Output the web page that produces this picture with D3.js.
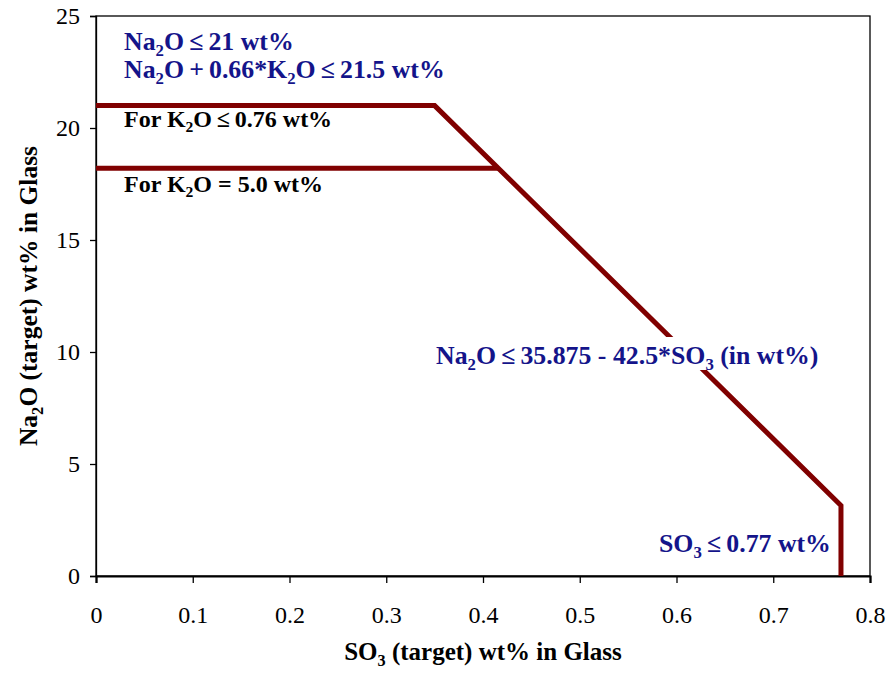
<!DOCTYPE html>
<html>
<head>
<meta charset="utf-8">
<script src="https://cdn.jsdelivr.net/npm/d3@7"></script>
<style>
  body { margin: 0; background: #fff; }
  svg text { font-family: "Liberation Serif", "Times New Roman", serif; }
</style>
</head>
<body>
<div id="chart"></div>
<script>
// limit line for K2O <= 0.76 wt%
var so3Main = [0, 0.35, 0.77, 0.77];
var na2oMain = [21, 21, 3.15, 0];
// limit line for K2O = 5.0 wt%
var so3K5 = [0, 0.416];
var na2oK5 = [18.2, 18.2];

var xTicks = [0, 0.1, 0.2, 0.3, 0.4, 0.5, 0.6, 0.7, 0.8];
var yTicks = [0, 5, 10, 15, 20, 25];

var width = 888, height = 674;
var margin = {top: 16, right: 18, bottom: 98, left: 96};

var x = d3.scaleLinear().domain([0, 0.8]).range([margin.left, width - margin.right]);
var y = d3.scaleLinear().domain([0, 25]).range([height - margin.bottom, margin.top]);

var svg = d3.select("#chart").append("svg")
  .attr("width", width)
  .attr("height", height);

// frame
svg.append("rect")
  .attr("x", x(0)).attr("y", y(25))
  .attr("width", x(0.8) - x(0)).attr("height", y(0) - y(25))
  .attr("fill", "none").attr("stroke", "#000").attr("stroke-width", 1.3);

// x axis
var xAxis = svg.append("g")
  .attr("transform", "translate(0," + y(0) + ")")
  .call(d3.axisBottom(x).tickValues(xTicks).tickSize(7).tickPadding(23)
    .tickFormat(function(d) { return d === 0 ? "0" : d3.format(".1f")(d); }));
xAxis.select(".domain").attr("stroke-width", 2.2);
xAxis.selectAll(".tick line").attr("stroke-width", 1.3);
xAxis.selectAll("text").attr("font-size", 24).attr("font-family", "Liberation Serif").attr("fill", "#000");

// y axis
var yAxis = svg.append("g")
  .attr("transform", "translate(" + x(0) + ",0)")
  .call(d3.axisLeft(y).tickValues(yTicks).tickSize(6).tickPadding(10));
yAxis.select(".domain").attr("stroke-width", 1.3);
yAxis.selectAll(".tick line").attr("stroke-width", 1.3);
yAxis.selectAll("text").attr("font-size", 24).attr("font-family", "Liberation Serif").attr("fill", "#000");

// lines
var line = d3.line()
  .x(function(d) { return x(d[0]); })
  .y(function(d) { return y(d[1]); });

svg.append("path")
  .datum(d3.zip(so3K5, na2oK5))
  .attr("d", line)
  .attr("fill", "none").attr("stroke", "#800000").attr("stroke-width", 5);

svg.append("path")
  .datum(d3.zip(so3Main, na2oMain))
  .attr("d", line)
  .attr("fill", "none").attr("stroke", "#800000").attr("stroke-width", 5)
  .attr("stroke-linejoin", "miter");

// text with subscripts, no empty tspans
function richText(parent, px, py, parts, opts) {
  var t = parent.append("text")
    .attr("x", px).attr("y", py)
    .attr("font-size", opts.size)
    .attr("font-weight", "bold")
    .attr("fill", opts.color)
    .attr("text-anchor", opts.anchor || "start");
  if (opts.rotate) t.attr("transform", "rotate(" + opts.rotate + "," + px + "," + py + ")");
  var shift = opts.size * 0.22, down = false;
  parts.forEach(function(p) {
    var s = t.append("tspan");
    if (typeof p === "string") {
      if (down) { s.attr("dy", -shift); down = false; }
      s.text(p);
    } else {
      s.attr("font-size", opts.size * 0.65).attr("dy", shift).text(p.sub);
      down = true;
    }
  });
  return t;
}

var blue = "#14148a";

richText(svg, 124, 50, ["Na", {sub: "2"}, "O\u2009\u2264\u200921 wt%"], {size: 25.8, color: blue});
richText(svg, 124, 78, ["Na", {sub: "2"}, "O\u2009+\u20090.66*K", {sub: "2"}, "O\u2009\u2264\u200921.5 wt%"], {size: 25.8, color: blue});
richText(svg, 124, 127, ["For K", {sub: "2"}, "O\u2009\u2264\u20090.76 wt%"], {size: 24, color: "#000"});
richText(svg, 124, 192, ["For K", {sub: "2"}, "O = 5.0 wt%"], {size: 24, color: "#000"});

// label on slope with white background
svg.append("rect")
  .attr("x", 433).attr("y", 337).attr("width", 388).attr("height", 33)
  .attr("fill", "#fff");
richText(svg, 436, 364, ["Na", {sub: "2"}, "O\u2009\u2264\u200935.875 - 42.5*SO", {sub: "3"}, " (in wt%)"], {size: 25.8, color: blue});

richText(svg, 659, 552, ["SO", {sub: "3"}, "\u2009\u2264\u20090.77 wt%"], {size: 25.8, color: blue});

// axis titles
richText(svg, (x(0) + x(0.8)) / 2, 660, ["SO", {sub: "3"}, " (target) wt% in Glass"], {size: 25, color: "#000", anchor: "middle"});
richText(svg, 37, (y(0) + y(25)) / 2, ["Na", {sub: "2"}, "O (target) wt% in Glass"], {size: 25.5, color: "#000", anchor: "middle", rotate: -90});
</script>
</body>
</html>
